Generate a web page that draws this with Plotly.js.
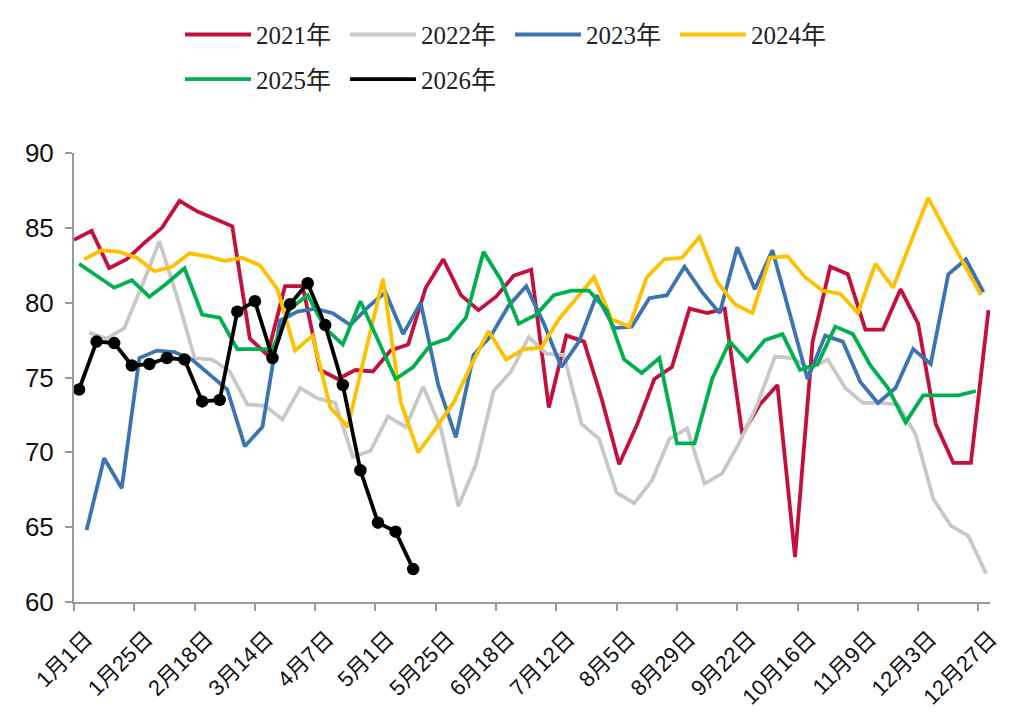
<!DOCTYPE html>
<html>
<head>
<meta charset="utf-8">
<script src="https://cdn.plot.ly/plotly-3.0.1.min.js"></script>
<style>
html,body{margin:0;padding:0;background:#fff;}
#chart{width:1014px;height:718px;}
</style>
</head>
<body>
<div id="chart"></div>
<script>
// tick labels (day offsets from 1月1日)
const tickDays = [0, 24, 48, 72, 96, 120, 144, 168, 192, 216, 240, 264, 288, 312, 336, 360];
const tickLabels = ["1月1日","1月25日","2月18日","3月14日","4月7日","5月1日","5月25日","6月18日","7月12日","8月5日","8月29日","9月22日","10月16日","11月9日","12月3日","12月27日"];

// weekly series; first observation day (offset from 1月1日) per year
const seriesNames = ["2021年","2022年","2023年","2024年","2025年","2026年"];
const firstDay = [0, 6, 5, 4, 2, 2];

const v2021 = [84.2,84.8,82.3,82.9,84.0,85.0,86.8,86.1,85.6,85.1,77.6,76.5,81.1,81.1,75.5,74.9,75.5,75.4,76.8,77.2,81.0,82.9,80.5,79.5,80.4,81.8,82.2,73.0,77.8,77.4,73.6,69.2,71.8,74.9,75.7,79.6,79.3,79.6,71.2,73.2,74.5,63.0,77.4,82.4,81.9,78.2,78.2,80.9,78.6,71.9,69.3,69.3,79.5];
const v2022 = [78.0,77.6,78.3,81.1,84.1,80.4,76.3,76.2,75.4,73.2,73.1,72.2,74.3,73.6,73.3,69.7,70.1,72.4,71.7,74.4,71.6,66.4,69.2,74.1,75.4,77.7,76.6,76.5,71.9,70.9,67.3,66.6,68.1,70.9,71.6,67.9,68.6,70.7,73.2,76.4,76.3,75.6,76.2,74.3,73.3,73.3,73.2,71.2,66.9,65.1,64.4,61.9];
const v2023 = [64.8,69.6,67.6,76.3,76.8,76.7,76.2,75.2,74.2,70.4,71.7,78.8,79.4,79.6,79.3,78.5,79.7,80.7,77.9,80.0,74.5,71.0,76.5,77.8,79.8,81.1,78.6,75.7,77.4,80.5,78.3,78.4,80.3,80.5,82.4,80.7,79.3,83.7,80.9,83.5,79.2,74.9,77.8,77.4,74.7,73.3,74.3,76.9,75.9,81.9,82.9,80.7];
const v2024 = [82.9,83.5,83.4,83.0,82.1,82.4,83.3,83.1,82.8,83.0,82.5,80.9,76.8,77.8,73.0,71.7,76.7,81.6,73.4,70.0,71.6,73.3,75.8,78.1,76.2,76.9,77.0,78.9,80.3,81.7,78.9,78.4,81.7,82.9,83.0,84.4,81.4,79.9,79.3,83.0,83.1,81.7,80.8,80.6,79.3,82.6,81.0,84.0,87.0,84.8,82.6,80.5];
const v2025 = [82.6,81.8,81.0,81.5,80.4,81.3,82.3,79.2,79.0,76.9,76.9,76.9,79.6,80.5,78.3,77.2,80.1,77.5,74.9,75.7,77.2,77.6,79.0,83.4,81.5,78.6,79.2,80.5,80.8,80.8,79.5,76.2,75.3,76.3,70.6,70.6,74.9,77.4,76.1,77.5,77.9,75.5,75.9,78.4,77.9,75.8,74.3,72.0,73.8,73.8,73.8,74.1];
const v2026 = [74.2,77.4,77.3,75.8,75.9,76.3,76.2,73.4,73.5,79.4,80.1,76.3,79.9,81.3,78.5,74.5,68.8,65.3,64.7,62.2];

const allValues = [v2021, v2022, v2023, v2024, v2025, v2026];
const colors = ["#C3103C","#C8C8C8","#3B74B2","#FFC000","#00AF4E","#000000"];
const legendOf = ["legend","legend","legend","legend","legend2","legend2"];

function weekDays(start, n){ const d=[]; for(let i=0;i<n;i++) d.push(start+7*i); return d; }

const traces = [];
allValues.forEach((vals, k) => {
  traces.push({
    type:'scatter', mode:'lines', name: seriesNames[k],
    x: weekDays(firstDay[k], vals.length), y: vals,
    line:{color: colors[k], width: 3.8},
    legend: legendOf[k], hoverinfo:'x+y'
  });
});
// markers for 2026
traces.push({
  type:'scatter', mode:'markers', name:'2026年', showlegend:false,
  x: weekDays(firstDay[5], v2026.length), y: v2026,
  marker:{color:'#000', size:12.5}
});

const legendFont = {family:'"Liberation Serif", "Noto Sans CJK SC", serif', size:25, color:'#222'};
const layout = {
  width:1014, height:718,
  margin:{l:74, r:24, t:150, b:116, pad:0},
  paper_bgcolor:'#fff', plot_bgcolor:'#fff',
  font:{family:'"Liberation Sans", Arial, "Noto Sans CJK SC", sans-serif', color:'#111'},
  xaxis:{
    range:[0, 364.6], tickmode:'array', tickvals: tickDays, ticktext: tickLabels,
    tickangle:-45, ticks:'outside', ticklen:7, tickwidth:2, tickcolor:'#9a9a9a',
    showline:true, linecolor:'#9a9a9a', linewidth:2, showgrid:false, zeroline:false,
    tickfont:{size:22, color:'#111'}, ticklabelshift:12, ticklabelstandoff:6, fixedrange:true
  },
  yaxis:{
    range:[60, 90], dtick:5, tick0:60, ticks:'outside', ticklen:7, tickwidth:2, tickcolor:'#9a9a9a',
    showline:true, linecolor:'#9a9a9a', linewidth:2, showgrid:false, zeroline:false,
    tickfont:{size:26, color:'#111'}, ticklabelstandoff:6, fixedrange:true
  },
  showlegend:true,
  legend:{orientation:'h', x:0.1157, xanchor:'left', y:1.2634, yanchor:'middle',
    font:legendFont, itemwidth:66, entrywidth:84, bgcolor:'rgba(0,0,0,0)', traceorder:'normal'},
  legend2:{orientation:'h', x:0.1157, xanchor:'left', y:1.1638, yanchor:'middle',
    font:legendFont, itemwidth:66, entrywidth:84, bgcolor:'rgba(0,0,0,0)', traceorder:'normal'}
};

Plotly.newPlot('chart', traces, layout, {displayModeBar:false, staticPlot:true});
</script>
</body>
</html>
